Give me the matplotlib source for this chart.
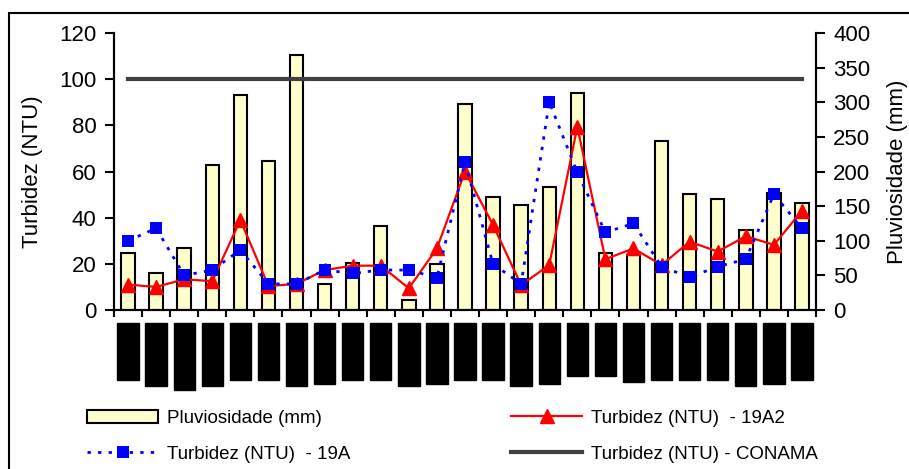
import matplotlib.pyplot as plt
from matplotlib.patches import Rectangle
from matplotlib.lines import Line2D
from matplotlib.transforms import blended_transform_factory

plt.rcParams['font.family'] = ['Liberation Sans', 'DejaVu Sans']

# pluviosidade mensal (mm) - eixo direito
pluviosidade = [82, 53, 90, 209, 310, 215, 368, 38, 68, 122, 15, 67, 298,
                163, 151, 177, 313, 82, 79, 244, 168, 160, 116, 169, 155]
# turbidez (NTU) - eixo esquerdo
turb_19a2 = [11, 10, 13.3, 12.5, 39, 10.4, 11.3, 17.3, 19.2, 19.2, 9.4, 26.7, 60,
             36.8, 10.8, 19.5, 79.4, 22, 26.7, 19.5, 29.6, 25.3, 32, 28.2, 43]
turb_19a = [30, 35.4, 15, 17.3, 26, 11.3, 11.3, 17.3, 15.9, 17.3, 17.3, 14, 64,
            19.9, 11.3, 90.1, 59.6, 33.6, 37.5, 18.8, 14.2, 18.8, 22, 50.1, 35.4]
conama = 100
# comprimento (px) dos rótulos do eixo x
rotulo_px = [57, 63, 67, 63, 57, 57, 63, 61, 57, 57, 63, 61, 57,
             57, 63, 61, 53, 53, 59, 57, 57, 57, 63, 61, 57]

n = len(pluviosidade)
x = list(range(n))

fig = plt.figure(figsize=(9.09, 4.69), dpi=100)
ax = fig.add_axes([114 / 909, 1 - 310 / 469, 702 / 909, 277 / 469])
ax2 = ax.twinx()

ax2.bar(x, pluviosidade, width=0.48, color='#FFFFCC', edgecolor='black', linewidth=1.5)
ax2.set_ylim(0, 400)
ax2.set_yticks(range(0, 401, 50))

ax.plot([x[0], x[-1]], [conama, conama], color='#404040', linewidth=3)
ax.plot(x, turb_19a2, color='red', linewidth=1.6, marker='^', markersize=9.5)
ax.plot(x, turb_19a, color='blue', linewidth=2, linestyle=(0, (1.2, 2.6)),
        marker='s', markersize=9, markeredgewidth=0)
ax.set_ylim(0, 120)
ax.set_yticks(range(0, 121, 20))
ax.set_xlim(-0.5, n - 0.5)
ax.set_xticks([i - 0.5 for i in range(n + 1)])
ax.set_xticklabels([])

ax.set_zorder(ax2.get_zorder() + 1)
ax.patch.set_visible(False)

for a in (ax, ax2):
    a.spines['top'].set_visible(False)
    for s in ('left', 'right', 'bottom'):
        a.spines[s].set_linewidth(1.5)
ax.tick_params(axis='y', labelsize=16, length=6.5, width=1.5, pad=6)
ax.tick_params(axis='x', length=5, width=1.5)
ax2.tick_params(axis='y', labelsize=16, length=6.5, width=1.5, pad=6)
ax.set_ylabel('Turbidez (NTU)', fontsize=16, labelpad=12)
ax2.set_ylabel('Pluviosidade (mm)', fontsize=16, labelpad=12)

# rótulos do eixo x (blocos)
tr = blended_transform_factory(ax.transData, ax.transAxes)
for i, comp in zip(x, rotulo_px):
    ax.add_patch(Rectangle((i - 0.38, -13 / 277), 0.76, -comp / 277,
                           transform=tr, color='black', clip_on=False))

handles = [
    Rectangle((0, 0), 1, 1, facecolor='#FFFFCC', edgecolor='black', linewidth=1.5),
    Line2D([], [], color='blue', linewidth=2, linestyle=(0, (1.2, 2.6)),
           marker='s', markersize=9, markeredgewidth=0),
    Line2D([], [], color='red', linewidth=1.6, marker='^', markersize=9.5),
    Line2D([], [], color='#404040', linewidth=3),
]
labels = ['Pluviosidade (mm)', 'Turbidez (NTU)  - 19A',
          'Turbidez (NTU)  - 19A2', 'Turbidez (NTU) - CONAMA']
fig.legend(handles, labels, ncol=2, frameon=False, fontsize=13.5,
           loc='upper left', bbox_to_anchor=(70 / 909, 1 - 393 / 469),
           handlelength=3.8, handletextpad=0.45, columnspacing=8.6,
           labelspacing=1.0)

# moldura
fig.add_artist(Rectangle((9 / 909, -0.1), 1.2, 1 - 13 / 469 + 0.1,
                         transform=fig.transFigure, fill=False,
                         edgecolor='black', linewidth=1.5))

fig.savefig('out.png', dpi=100)
